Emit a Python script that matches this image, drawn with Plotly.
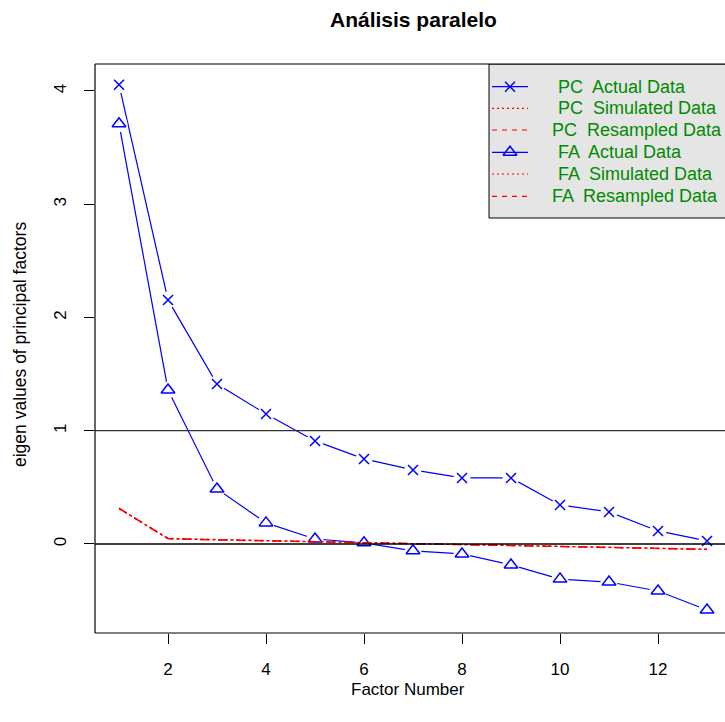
import plotly.graph_objects as go

factors = list(range(1, 14))
pc_actual = [4.055, 2.155, 1.413, 1.148, 0.91, 0.751, 0.654, 0.583, 0.583, 0.345, 0.283, 0.115, 0.027]
fa_actual = [3.71, 1.36, 0.486, 0.186, 0.044, 0.01, -0.06, -0.088, -0.185, -0.31, -0.336, -0.415, -0.583]
pc_sim = [0.315, 0.05, 0.04, 0.03, 0.02, 0.01, 0.003, -0.005, -0.012, -0.02, -0.028, -0.037, -0.047]
pc_res = [0.318, 0.048, 0.038, 0.029, 0.019, 0.009, 0.002, -0.006, -0.013, -0.021, -0.029, -0.038, -0.046]
fa_sim = [0.312, 0.045, 0.036, 0.027, 0.018, 0.008, 0.001, -0.007, -0.014, -0.022, -0.03, -0.039, -0.048]
fa_res = [0.314, 0.046, 0.035, 0.026, 0.017, 0.008, 0.0, -0.008, -0.015, -0.023, -0.031, -0.04, -0.049]

legend_labels = ["PC  Actual Data", "PC  Simulated Data", "PC  Resampled Data",
                 "FA  Actual Data", "FA  Simulated Data", "FA  Resampled Data"]
x_ticks = [2, 4, 6, 8, 10, 12]
y_ticks = [0, 1, 2, 3, 4]

FONT = "Liberation Sans, Arial, sans-serif"
BLUE = "#0000FF"
RED = "#FF0000"
GREEN = "#008B00"

W, H = 725, 722
L, T, R_EDGE, B = 95, 64, 725, 633

fig = go.Figure()

# blue lines
for ys in (pc_actual, fa_actual):
    fig.add_trace(go.Scatter(x=factors, y=ys, mode="lines", line=dict(color=BLUE, width=1.2),
                             showlegend=False, hoverinfo="skip"))
# white gaps around points (type="b" look)
for ys in (pc_actual, fa_actual):
    fig.add_trace(go.Scatter(x=factors, y=ys, mode="markers",
                             marker=dict(symbol="circle", size=17, color="white", line=dict(width=0)),
                             showlegend=False, hoverinfo="skip"))
# markers
fig.add_trace(go.Scatter(x=factors, y=pc_actual, mode="markers",
                         marker=dict(symbol="x-thin-open", size=10, color=BLUE, line=dict(color=BLUE, width=1.5)),
                         showlegend=False, hoverinfo="skip"))
fig.add_trace(go.Scatter(x=factors, y=fa_actual, mode="markers",
                         marker=dict(symbol="triangle-up-open", size=12, color=BLUE, line=dict(color=BLUE, width=1.5)),
                         showlegend=False, hoverinfo="skip"))
# red simulated / resampled
for ys, dash in ((pc_sim, "dot"), (pc_res, "dash"), (fa_sim, "dot"), (fa_res, "dash")):
    fig.add_trace(go.Scatter(x=factors, y=ys, mode="lines", line=dict(color=RED, width=1.2, dash=dash),
                             showlegend=False, hoverinfo="skip"))

# legend (drawn on pixel overlay axes)
leg_y = [86.7, 108.3, 130.0, 152.3, 174.0, 196.3]
leg_tx = [556, 556, 550, 556, 556, 550]
leg_sym = ["x", None, None, "tri", None, None]
leg_dash = ["solid", "2px,3px", "5px,5px", "solid", "2px,3px", "5px,5px"]
leg_col = [BLUE, RED, RED, BLUE, RED, RED]

shapes = []
annotations = []
shapes.append(dict(type="rect", xref="x2", yref="y2", x0=489, x1=732, y0=64, y1=218,
                   fillcolor="#E5E5E5", line=dict(color="black", width=1), layer="below"))
for i in range(6):
    fig.add_trace(go.Scatter(x=[492, 528], y=[leg_y[i], leg_y[i]], xaxis="x2", yaxis="y2", mode="lines",
                             line=dict(color=leg_col[i], width=1.2, dash=leg_dash[i]),
                             showlegend=False, hoverinfo="skip"))
    if leg_sym[i]:
        fig.add_trace(go.Scatter(x=[510], y=[leg_y[i]], xaxis="x2", yaxis="y2", mode="markers",
                                 marker=dict(symbol="x-thin-open" if leg_sym[i] == "x" else "triangle-up-open",
                                             size=10 if leg_sym[i] == "x" else 12,
                                             color=BLUE, line=dict(color=BLUE, width=1.5)),
                                 showlegend=False, hoverinfo="skip"))
    annotations.append(dict(xref="x2", yref="y2", x=leg_tx[i], y=leg_y[i], text=legend_labels[i],
                            showarrow=False, xanchor="left", yanchor="middle",
                            font=dict(family=FONT, size=18, color=GREEN)))

# horizontal reference lines
for yv, col in ((1, "#333333"), (0, "black")):
    shapes.append(dict(type="line", xref="paper", yref="y", x0=0, x1=1, y0=yv, y1=yv,
                       line=dict(color=col, width=1.3), layer="above"))
# box (left, top, bottom)
for (x0, y0, x1, y1) in ((0, 0, 0, 1), (0, 1, 1, 1), (0, 0, 1, 0)):
    shapes.append(dict(type="line", xref="paper", yref="paper", x0=x0, y0=y0, x1=x1, y1=y1,
                       line=dict(color="black", width=1.2), layer="above"))

annotations.append(dict(xref="paper", yref="paper", x=(413 - L) / (R_EDGE - L), y=(B - 20) / (B - T),
                        text="<b>Análisis paralelo</b>", showarrow=False, xanchor="center", yanchor="middle",
                        font=dict(family=FONT, size=21, color="black")))
annotations.append(dict(xref="paper", yref="paper", x=(408 - L) / (R_EDGE - L), y=(B - 689) / (B - T),
                        text="Factor Number", showarrow=False, xanchor="center", yanchor="middle",
                        font=dict(family=FONT, size=17, color="black")))
annotations.append(dict(xref="paper", yref="paper", x=(20 - L) / (R_EDGE - L), y=(B - 345) / (B - T),
                        text="eigen values of principal factors", showarrow=False, textangle=-90,
                        xanchor="center", yanchor="middle",
                        font=dict(family=FONT, size=17.5, color="black")))

fig.update_layout(
    width=W, height=H,
    margin=dict(l=L, r=W - R_EDGE, t=T, b=H - B, pad=0),
    paper_bgcolor="white", plot_bgcolor="white",
    showlegend=False,
    font=dict(family=FONT, size=17, color="black"),
    xaxis=dict(range=[0.51, 13.367], tickvals=x_ticks, ticks="outside", ticklen=10, tickwidth=1,
               tickcolor="black", showgrid=False, zeroline=False, showline=False,
               tickfont=dict(family=FONT, size=17, color="black"), ticklabelstandoff=11),
    yaxis=dict(range=[-0.786, 4.238], tickvals=y_ticks, ticks="outside", ticklen=10, tickwidth=1,
               tickcolor="black", showgrid=False, zeroline=False, showline=False, tickangle=-90,
               tickfont=dict(family=FONT, size=17, color="black"), ticklabelstandoff=11),
    xaxis2=dict(range=[L, R_EDGE], overlaying="x", visible=False, showgrid=False, zeroline=False),
    yaxis2=dict(range=[B, T], overlaying="y", visible=False, showgrid=False, zeroline=False),
    shapes=shapes,
    annotations=annotations,
)

fig.write_html("out.html", config={"displayModeBar": False},
               post_script="document.body.style.margin='0';document.body.style.overflow='hidden';")
